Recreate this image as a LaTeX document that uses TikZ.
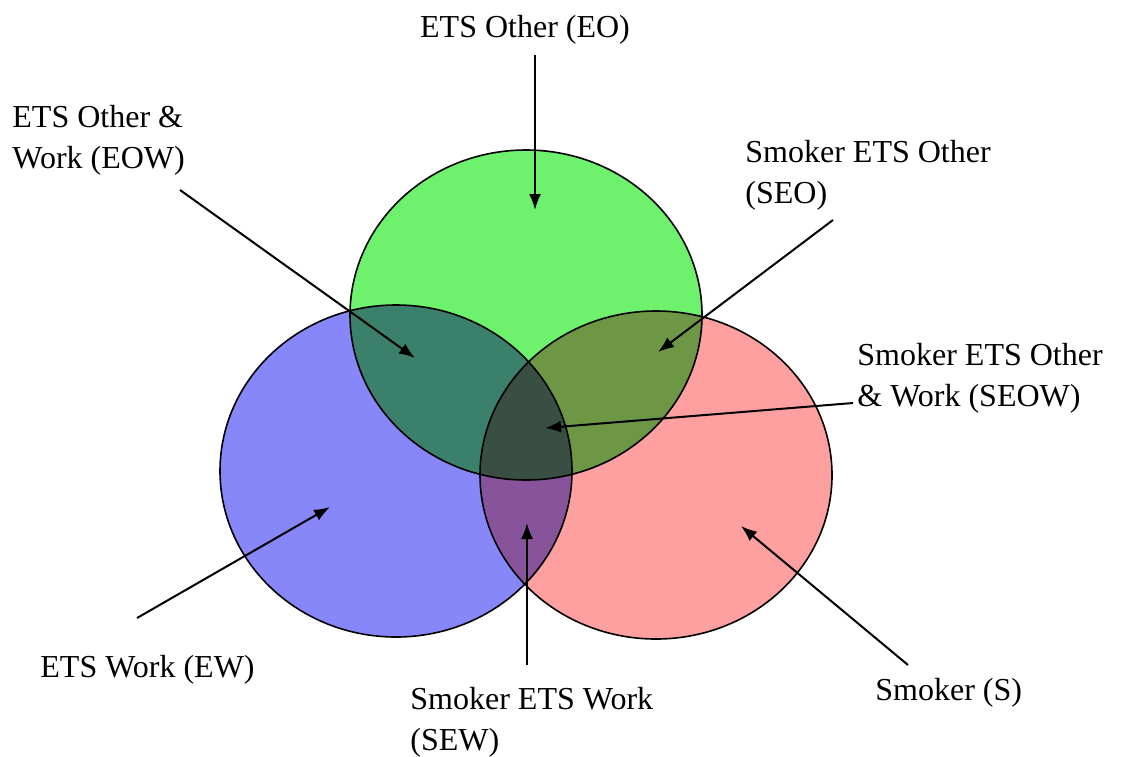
\documentclass[tikz,border=0pt]{standalone}
\usepackage{fontspec}
\setmainfont{Liberation Serif}
\usetikzlibrary{arrows.meta}
\definecolor{ewblue}{RGB}{135,135,250}
\definecolor{eogreen}{RGB}{110,242,110}
\definecolor{sred}{RGB}{255,160,160}
\begin{document}
\begin{tikzpicture}[x=0.5pt,y=-0.5pt,
  lbl/.style={inner sep=0pt,align=left,font=\fontsize{16}{20.5}\selectfont},
  arr/.style={line width=1pt,-{Latex[length=8pt,width=6pt]}},
  ring/.style={line width=0.8pt}]
\useasboundingbox (0,0) rectangle (1127,756);
% the three sets
\begin{scope}[blend mode=multiply]
\fill[ewblue] (396,471) ellipse [x radius=176,y radius=166];
\fill[sred] (656,475) ellipse [x radius=176,y radius=164];
\fill[eogreen] (526,315) ellipse [x radius=176,y radius=165];
\end{scope}
\draw[ring] (396,471) ellipse [x radius=176,y radius=166];
\draw[ring] (656,475) ellipse [x radius=176,y radius=164];
\draw[ring] (526,315) ellipse [x radius=176,y radius=165];
% labels
\node[lbl,anchor=base] (eo) at (525,37) {ETS Other (EO)};
\node[lbl,anchor=north west] (eow) at (12,105) {ETS Other \&\\Work (EOW)};
\node[lbl,anchor=north west] (seo) at (745,140) {Smoker ETS Other\\(SEO)};
\node[lbl,anchor=north west] (seow) at (857,343) {Smoker ETS Other\\\& Work (SEOW)};
\node[lbl,anchor=base west] (ew) at (40,677) {ETS Work (EW)};
\node[lbl,anchor=north west] (sew) at (410,687) {Smoker ETS Work\\(SEW)};
\node[lbl,anchor=base west] (s) at (875,700) {Smoker (S)};
% arrow ends
\coordinate (eo-t) at (535,55);   \coordinate (eo-h) at (535,210);
\coordinate (eow-t) at (180,190); \coordinate (eow-h) at (415,358);
\coordinate (seo-t) at (833,220); \coordinate (seo-h) at (658,352);
\coordinate (seow-t) at (853,403);\coordinate (seow-h) at (545,428);
\coordinate (ew-t) at (137,618);  \coordinate (ew-h) at (330,507);
\coordinate (sew-t) at (527,665); \coordinate (sew-h) at (527,523);
\coordinate (s-t) at (908,665);   \coordinate (s-h) at (741,526);
\foreach \a in {eo,eow,seo,seow,ew,sew,s}
  \draw[arr] (\a-t) -- (\a-h);
\end{tikzpicture}
\end{document}
